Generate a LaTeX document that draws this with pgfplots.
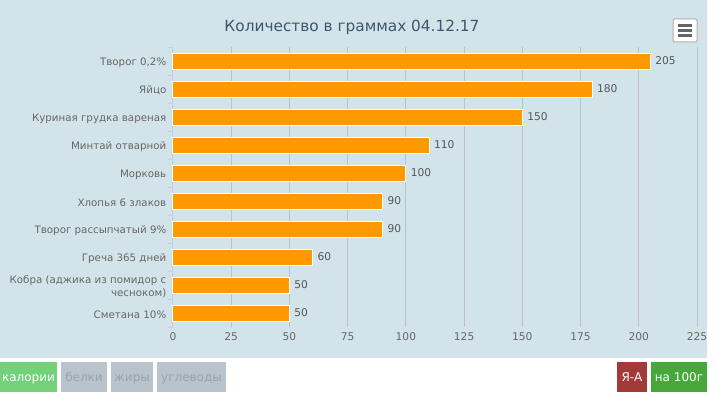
\documentclass[border=0pt]{standalone}
\usepackage{pgfplots}
\pgfplotsset{compat=1.18}
\usepackage{fontspec}
\setmainfont{DejaVu Sans}
\definecolor{bg}{HTML}{D2E4EA}
\definecolor{barc}{HTML}{FF9900}
\definecolor{gridc}{HTML}{C0C0C0}
\definecolor{axisc}{HTML}{C0D0E0}
\definecolor{titlec}{HTML}{3E576F}
\definecolor{labc}{HTML}{666666}
\definecolor{valc}{HTML}{555555}
\definecolor{menub}{HTML}{B0B0B0}
\definecolor{kal}{HTML}{73D17A}
\definecolor{greyb}{HTML}{B9C3CC}
\definecolor{greyt}{HTML}{98A3AE}
\definecolor{redb}{HTML}{A33A3A}
\definecolor{greenb}{HTML}{46A83A}
\tikzset{btn/.style={font=\fontsize{9}{11}\selectfont, text height=1.6ex, text depth=0.3ex, inner sep=0pt}}
\begin{document}
\begin{tikzpicture}[x=0.75pt,y=-0.75pt]
\path[use as bounding box, fill=white] (0,0) rectangle (717,399);
\fill[bg] (0,0) rectangle (707,358);
\node[text=titlec, font=\fontsize{11.5}{14}\selectfont] at (352,27) {Количество в граммах 04.12.17};
% menu button
\draw[fill=white, draw=menub, line width=0.75pt, rounded corners=1pt] (673,19) rectangle (697,42);
\foreach \yy in {25.5,30.5,35.5} \draw[line width=2.25pt, draw=labc] (678,\yy) -- (692,\yy);
\begin{axis}[
  at={(129.75pt,-245.25pt)}, anchor=south west,
  scale only axis, width=393pt, height=210pt,
  xbar, bar width=12pt,
  xmin=0, xmax=225, ymin=-0.5, ymax=9.5,
  y dir=reverse,
  axis y line*=left, axis x line*=bottom,
  x axis line style={draw=none},
  y axis line style={draw=axisc, line width=0.75pt, -},
  xtick={0,25,...,225},
  ytick={0,...,9},
  yticklabels={{Творог 0,2\%},{Яйцо},{Куриная грудка вареная},{Минтай отварной},{Морковь},{Хлопья 6 злаков},{Творог рассыпчатый 9\%},{Греча 365 дней},{Кобра (аджика из помидор с\\чесноком)},{Сметана 10\%}},
  minor ytick={-0.5,0.5,...,9.5},
  major tick length=0pt,
  minor tick length=3.75pt,
  tick align=outside,
  major tick style={draw=none},
  minor tick style={draw=axisc, line width=0.75pt},
  xmajorgrids,
  major grid style={draw=gridc, line width=0.75pt},
  /pgf/number format/assume math mode=true,
  yticklabel style={font=\fontsize{7.7}{9.5}\selectfont, text=labc, align=right, xshift=-1.5pt, yshift=-1.2pt},
  xticklabel style={font=\fontsize{8}{9.5}\selectfont, text=labc, yshift=-1pt},
  nodes near coords,
  nodes near coords style={font=\fontsize{8}{9.5}\selectfont, text=valc},
  clip=false,
]
\addplot[fill=barc, draw=white, line width=0.75pt] coordinates {
(205,0) (180,1) (150,2) (110,3) (100,4) (90,5) (90,6) (60,7) (50,8) (50,9)
};
\end{axis}
% buttons
\fill[kal] (0,362) rectangle (57,392);
\node[btn, text=white] at (28.5,377) {калории};
\fill[greyb] (61,362) rectangle (107,392);
\node[btn, text=greyt] at (84,377) {белки};
\fill[greyb] (111,362) rectangle (153,392);
\node[btn, text=greyt] at (132,377) {жиры};
\fill[greyb] (157,362) rectangle (226,392);
\node[btn, text=greyt] at (191.5,377) {углеводы};
\fill[redb] (617,362) rectangle (647,392);
\node[btn, text=white] at (632,377) {Я-А};
\fill[greenb] (651,362) rectangle (707,392);
\node[btn, text=white] at (679,377) {на 100г};
\end{tikzpicture}
\end{document}
